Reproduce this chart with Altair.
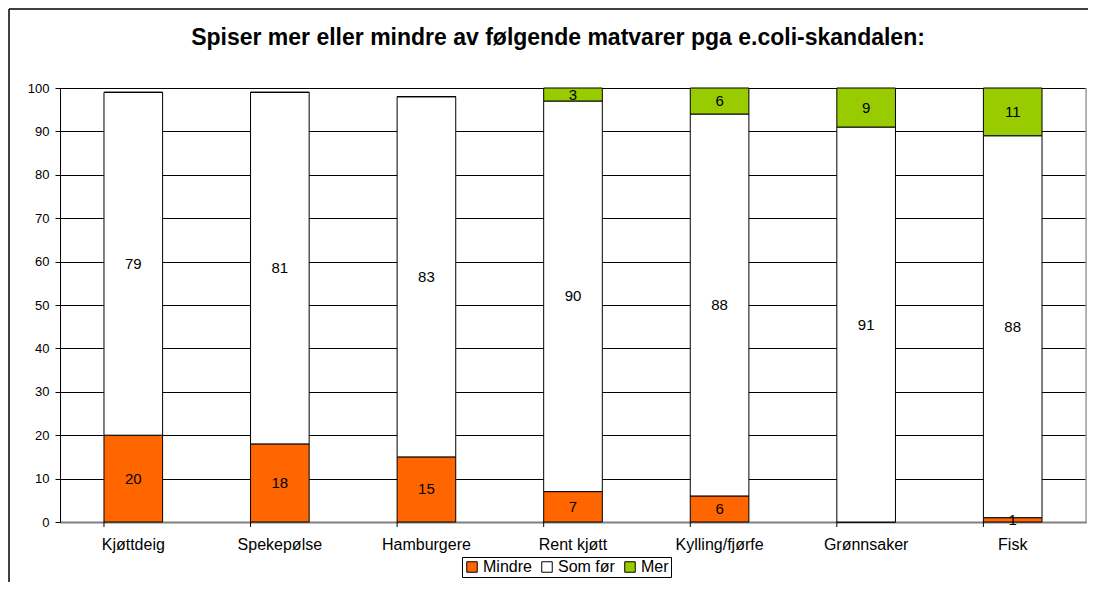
import altair as alt
import pandas as pd

categories = ["Kjøttdeig", "Spekepølse", "Hamburgere", "Rent kjøtt", "Kylling/fjørfe", "Grønnsaker", "Fisk"]
series = ["Mindre", "Som før", "Mer"]
mindre = [20, 18, 15, 7, 6, 0, 1]
som_for = [79, 81, 83, 90, 88, 91, 88]
mer = [0, 0, 0, 3, 6, 9, 11]
colors = ["#FF6600", "#FFFFFF", "#99CC00"]
title_text = "Spiser mer eller mindre av følgende matvarer pga e.coli-skandalen:"

rows = []
for i, c in enumerate(categories):
    base = 0
    for j, (s, vals) in enumerate(zip(series, [mindre, som_for, mer])):
        v = vals[i]
        rows.append({"cat": c, "series": s, "order": j, "val": v,
                     "y0": base, "y1": base + v, "mid": base + v / 2})
        base += v
df = pd.DataFrame(rows)

W, H = 1026, 434
FONT = "Liberation Sans"

xenc = alt.X("cat:N", sort=categories, title=None,
             scale=alt.Scale(paddingInner=0.6, paddingOuter=0.3),
             axis=alt.Axis(labelAngle=0, labelFontSize=16, labelColor="#000000",
                           ticks=False, domainColor="#808080", domainWidth=2,
                           labelPadding=14, labelFont=FONT))

bars = alt.Chart(df).mark_bar(stroke="#000000", strokeWidth=1).encode(
    x=xenc,
    y=alt.Y("y0:Q", title=None,
            scale=alt.Scale(domain=[0, 100], nice=False),
            axis=alt.Axis(values=list(range(0, 101, 10)), grid=True, gridColor="#000000",
                          gridWidth=1, domainColor="#000000", tickColor="#000000",
                          tickSize=5, labelFontSize=13, labelColor="#000000",
                          labelPadding=6, labelFont=FONT)),
    y2="y1:Q",
    color=alt.Color("series:N", title=None,
                    scale=alt.Scale(domain=series, range=colors),
                    legend=alt.Legend(orient="none", legendX=402, legendY=469,
                                      direction="horizontal", symbolType="square",
                                      symbolSize=110, symbolStrokeColor="#000000",
                                      symbolStrokeWidth=1, labelFontSize=16,
                                      labelFont=FONT, labelColor="#000000",
                                      strokeColor="#000000", padding=2,
                                      columnPadding=7, labelOffset=3)),
    order="order:Q",
)

labels = alt.Chart(df).transform_filter("datum.val > 0").mark_text(
    fontSize=15, font=FONT, color="#000000", baseline="middle"
).encode(
    x=alt.X("cat:N", sort=categories),
    y=alt.Y("mid:Q"),
    text="val:Q",
)

ticks = alt.Chart(pd.DataFrame({"cat": categories})).mark_rule(color="#000000").encode(
    x=alt.X("cat:N", sort=categories, bandPosition=0),
    y=alt.value(H),
    y2=alt.value(H + 5),
)

one = pd.DataFrame({"a": [0]})
frame_left = alt.Chart(one).mark_rule(color="#000000", strokeWidth=1.5).encode(
    x=alt.value(-51), y=alt.value(-79), y2=alt.value(H + 80)
)
frame_top = alt.Chart(one).mark_rule(color="#000000", strokeWidth=1.5).encode(
    x=alt.value(-51), x2=alt.value(W + 10), y=alt.value(-79)
)
plot_right = alt.Chart(one).mark_rule(color="#A0A0A0", strokeWidth=1.5).encode(
    x=alt.value(W), y=alt.value(0), y2=alt.value(H)
)

title = alt.Chart(pd.DataFrame({"t": [title_text]})).mark_text(
    fontSize=23, fontWeight="bold", font=FONT, color="#000000", baseline="alphabetic"
).encode(
    x=alt.value(498), y=alt.value(-43), text="t:N"
)

chart = alt.layer(frame_left, frame_top, plot_right, bars, labels, ticks, title).properties(
    width=W, height=H,
    autosize=alt.AutoSizeParams(type="none"),
    padding={"left": 52, "top": 80, "right": 2, "bottom": 60},
).configure_view(strokeWidth=0).configure(font=FONT)

chart.save("out.html", embed_options={"renderer": "svg", "actions": False})
